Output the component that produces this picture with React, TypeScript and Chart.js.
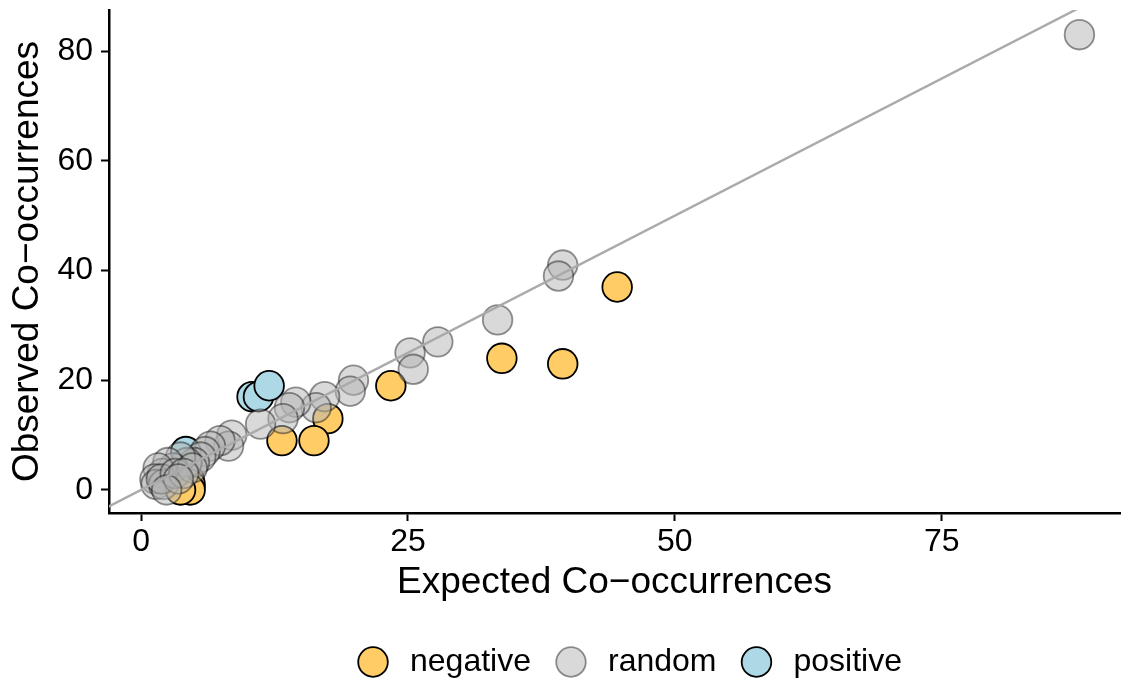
import React, { useEffect, useRef } from "react";
import { Chart, registerables } from "chart.js";

Chart.register(...registerables);

// Expected vs observed co-occurrence counts, one pair of arrays per class
const negativeExpected = [44.6, 33.8, 39.5, 23.4, 17.5, 13.2, 16.2, 4.5, 4.6, 4.6, 3.7];
const negativeObserved = [37, 24, 23, 19, 13, 9, 9, 2, 1, 0, 0];

const randomExpected = [
  87.9, 39.5, 39.1, 33.4, 27.8, 25.2, 25.5, 19.9, 19.6, 17.2, 16.4, 14.5, 13.9, 13.3,
  11.2, 8.5, 8.2, 7.4, 6.5, 6.0, 5.6, 5.0, 4.3, 3.7, 3.0, 2.5, 2.0, 1.6, 1.3, 1.4, 2.1,
  1.9, 3.2, 4.8, 4.0, 3.5, 2.4,
];
const randomObserved = [
  83, 41, 39, 31, 27, 25, 22, 20, 18, 17, 15, 16, 15, 13,
  12, 10, 8, 9, 8, 7, 6, 5, 5, 6, 4, 5, 3, 4, 2, 1, 1,
  2, 3, 4, 3, 2, 0,
];

const positiveExpected = [4.2, 10.4, 11.0, 12.0];
const positiveObserved = [7, 17, 17, 19];

// Reference line: observed equals expected
const identityLine = [-10, 100];

const xTicks = [0, 25, 50, 75];
const yTicks = [0, 20, 40, 60, 80];

const legendLabels = ["negative", "random", "positive"];
const fillColors = ["#FFCC66", "rgba(179,179,179,0.5)", "#ADD8E6"];
const strokeColors = ["#000000", "rgba(0,0,0,0.42)", "#000000"];

const FONT = "'Liberation Sans', Arial, Helvetica, sans-serif";
const POINT_R = 14.8;
const POINT_BORDER = 1.8;

const toPoints = (xs: number[], ys: number[]) => xs.map((x, i) => ({ x, y: ys[i] }));

const bottomLegend = {
  id: "bottomLegend",
  afterDraw(chart: any) {
    const ctx = chart.ctx as CanvasRenderingContext2D;
    ctx.save();
    ctx.font = `32px ${FONT}`;
    const r = 15;
    const keyToText = 37;
    const gap = 25;
    const widths = legendLabels.map((l) => ctx.measureText(l).width);
    const total = widths.reduce((s, w) => s + r + keyToText + w, 0) + gap * (legendLabels.length - 1);
    const cy = 662;
    let x = 630 - total / 2;
    legendLabels.forEach((label, i) => {
      const cx = x + r;
      ctx.beginPath();
      ctx.arc(cx, cy, POINT_R, 0, Math.PI * 2);
      ctx.fillStyle = fillColors[i];
      ctx.fill();
      ctx.lineWidth = POINT_BORDER;
      ctx.strokeStyle = strokeColors[i];
      ctx.stroke();
      ctx.fillStyle = "#000";
      ctx.textAlign = "left";
      ctx.textBaseline = "middle";
      ctx.fillText(label, cx + keyToText, cy);
      x = cx + keyToText + widths[i] + gap;
    });
    ctx.restore();
  },
};

function pointSet(label: string, xs: number[], ys: number[], i: number, order: number) {
  return {
    label,
    data: toPoints(xs, ys),
    pointRadius: POINT_R,
    pointHoverRadius: POINT_R,
    pointBackgroundColor: fillColors[i],
    pointBorderColor: strokeColors[i],
    pointBorderWidth: POINT_BORDER,
    backgroundColor: fillColors[i],
    borderColor: strokeColors[i],
    showLine: false,
    order,
  };
}

export default function App() {
  const canvasRef = useRef<HTMLCanvasElement | null>(null);

  useEffect(() => {
    if (!canvasRef.current) return;
    const chart = new Chart(canvasRef.current, {
      type: "scatter",
      data: {
        datasets: [
          pointSet("negative", negativeExpected, negativeObserved, 0, 1),
          pointSet("random", randomExpected, randomObserved, 1, 0),
          pointSet("positive", positiveExpected, positiveObserved, 2, 1),
          {
            type: "line",
            label: "identity",
            data: toPoints(identityLine, identityLine),
            borderColor: "#AAAAAA",
            borderWidth: 2.4,
            pointRadius: 0,
            showLine: true,
            fill: false,
            order: -1,
          } as any,
        ],
      },
      options: {
        animation: false,
        responsive: false,
        devicePixelRatio: 1,
        events: [],
        layout: { autoPadding: false, padding: { left: 0, right: 5, top: 10, bottom: 0 } },
        plugins: { legend: { display: false }, tooltip: { enabled: false } },
        scales: {
          x: {
            type: "linear",
            min: -3,
            max: 91.7,
            afterBuildTicks: (s: any) => {
              s.ticks = xTicks.map((v) => ({ value: v }));
            },
            afterFit: (s: any) => {
              s.height = 170;
              s.paddingLeft = 0;
              s.paddingRight = 0;
            },
            grid: { drawOnChartArea: false, drawTicks: true, tickLength: 8, tickWidth: 2, tickColor: "#000" },
            border: { display: true, color: "#000", width: 2.5 },
            ticks: { color: "#000", font: { family: FONT, size: 32 }, padding: 2, maxRotation: 0, autoSkip: false },
            title: {
              display: true,
              text: "Expected Co\u2212occurrences",
              color: "#000",
              font: { family: FONT, size: 37 },
              padding: { top: 0, bottom: 78 },
            },
          },
          y: {
            type: "linear",
            min: -4.2,
            max: 87.5,
            afterBuildTicks: (s: any) => {
              s.ticks = yTicks.map((v) => ({ value: v }));
            },
            afterFit: (s: any) => {
              s.width = 109;
              s.paddingTop = 0;
              s.paddingBottom = 0;
            },
            grid: { drawOnChartArea: false, drawTicks: true, tickLength: 8, tickWidth: 2, tickColor: "#000" },
            border: { display: true, color: "#000", width: 2.5 },
            ticks: { color: "#000", font: { family: FONT, size: 32 }, padding: 8, autoSkip: false },
            title: {
              display: true,
              text: "Observed Co\u2212occurrences",
              color: "#000",
              font: { family: FONT, size: 37 },
              padding: { top: 6, bottom: 0 },
            },
          },
        },
      },
      plugins: [bottomLegend],
    });
    return () => chart.destroy();
  }, []);

  return (
    <div style={{ position: "fixed", left: 0, top: 0, width: 1125, height: 683, background: "#fff" }}>
      <canvas ref={canvasRef} width={1125} height={683} />
    </div>
  );
}
